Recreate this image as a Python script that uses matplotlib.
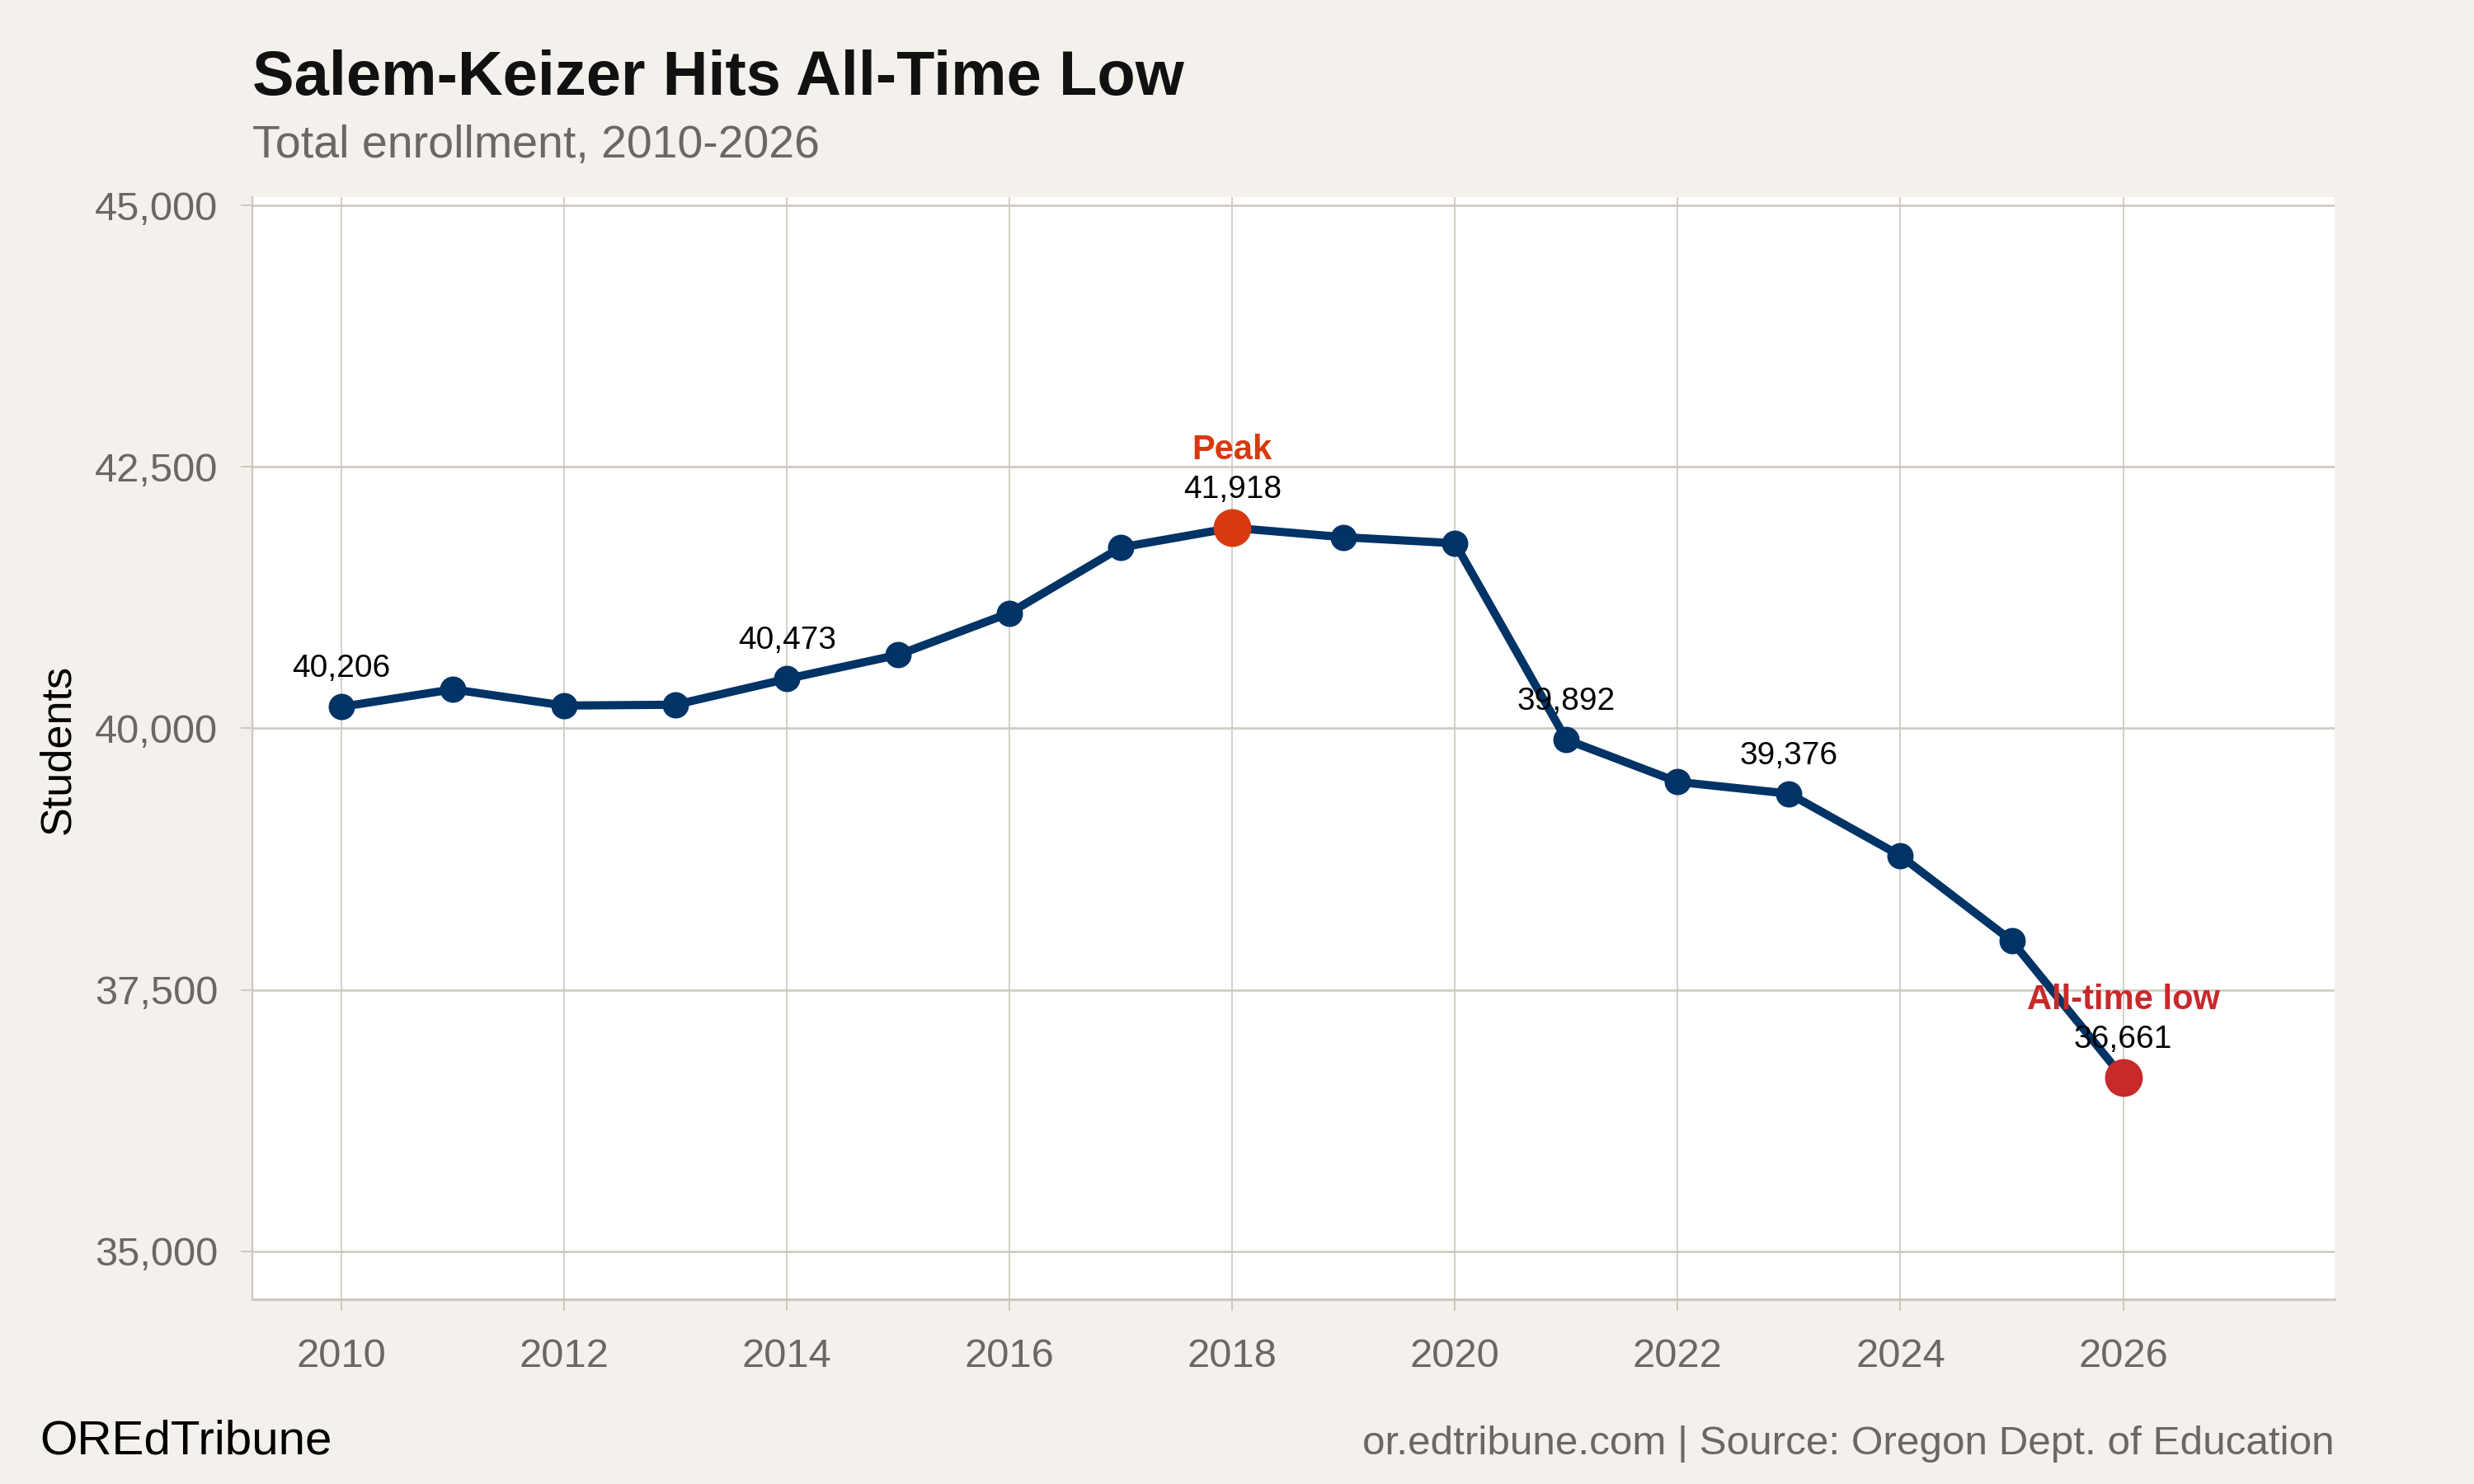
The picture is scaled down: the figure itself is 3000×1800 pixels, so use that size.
import matplotlib
matplotlib.use("Agg")
import matplotlib.pyplot as plt
from matplotlib.ticker import FuncFormatter

# enrollment by school year
years = [2010, 2011, 2012, 2013, 2014, 2015, 2016, 2017, 2018,
         2019, 2020, 2021, 2022, 2023, 2024, 2025, 2026]
students = [40206, 40373, 40218, 40226, 40473, 40703, 41103, 41730, 41918,
            41828, 41770, 39892, 39488, 39376, 38782, 37968, 36661]

labeled_years = [2010, 2014, 2018, 2021, 2023, 2026]
peak_year, low_year = 2018, 2026
x_ticks = list(range(2010, 2027, 2))
y_ticks = [35000, 37500, 40000, 42500, 45000]

BG = "#F4F1EC"
GRID = "#CDC7BE"
NAVY = "#003366"
PEAK = "#D63A0E"
LOW = "#C8292B"
GREY = "#6B6763"

plt.rcParams["font.family"] = ["Liberation Sans", "DejaVu Sans"]

fig = plt.figure(figsize=(15, 9), dpi=200, facecolor=BG)
ax = fig.add_axes([0.102, 0.1244, 0.8417, 0.7428])
ax.set_facecolor("white")

ax.plot(years, students, color=NAVY, lw=3.6, marker="o", ms=10.5,
        mfc=NAVY, mec=NAVY, zorder=3, solid_joinstyle="round")
ax.plot([peak_year], [students[years.index(peak_year)]], "o", ms=15.5,
        color=PEAK, zorder=4)
ax.plot([low_year], [students[years.index(low_year)]], "o", ms=15.5,
        color=LOW, zorder=4)

for yr in labeled_years:
    v = students[years.index(yr)]
    ax.annotate(f"{v:,}", (yr, v), xytext=(0, 13), textcoords="offset points",
                ha="center", va="baseline", fontsize=14, color="black", zorder=5)

ax.annotate("Peak", (peak_year, students[years.index(peak_year)]), xytext=(0, 30),
            textcoords="offset points", ha="center", va="baseline",
            fontsize=15, fontweight="bold", color=PEAK, zorder=5)
ax.annotate("All-time low", (low_year, students[years.index(low_year)]), xytext=(0, 30),
            textcoords="offset points", ha="center", va="baseline",
            fontsize=15, fontweight="bold", color=LOW, zorder=5)

ax.set_xlim(2009.2, 2027.9)
ax.set_ylim(34540, 45080)
ax.set_xticks(x_ticks)
ax.set_yticks(y_ticks)
ax.yaxis.set_major_formatter(FuncFormatter(lambda v, _: f"{int(v):,}"))

ax.grid(axis="y", color=GRID, lw=0.9, zorder=1)
ax.grid(axis="x", color=GRID, lw=0.6, zorder=1)
ax.set_axisbelow(True)

for side in ["top", "right"]:
    ax.spines[side].set_visible(False)
ax.spines["left"].set_color(GRID)
ax.spines["left"].set_linewidth(0.8)
ax.spines["bottom"].set_color(GRID)
ax.spines["bottom"].set_linewidth(1.1)

ax.tick_params(axis="both", colors=GRID, length=5, width=0.7,
               labelsize=17.6, labelcolor=GREY)
ax.tick_params(axis="x", pad=12)
ax.tick_params(axis="y", pad=10)

fig.text(0.0236, 0.495, "Students", rotation=90, ha="center", va="center",
         fontsize=18.8, color="black")

fig.text(0.102, 0.936, "Salem-Keizer Hits All-Time Low", fontsize=27.3,
         fontweight="bold", color="#111111", ha="left", va="baseline")
fig.text(0.102, 0.894, "Total enrollment, 2010-2026", fontsize=20,
         color=GREY, ha="left", va="baseline")

fig.text(0.016, 0.02, "OREdTribune", fontsize=21, color="black",
         ha="left", va="baseline")
fig.text(0.9437, 0.02, "or.edtribune.com | Source: Oregon Dept. of Education",
         fontsize=17.8, color=GREY, ha="right", va="baseline")

fig.savefig("out.png", dpi=200, facecolor=BG)
